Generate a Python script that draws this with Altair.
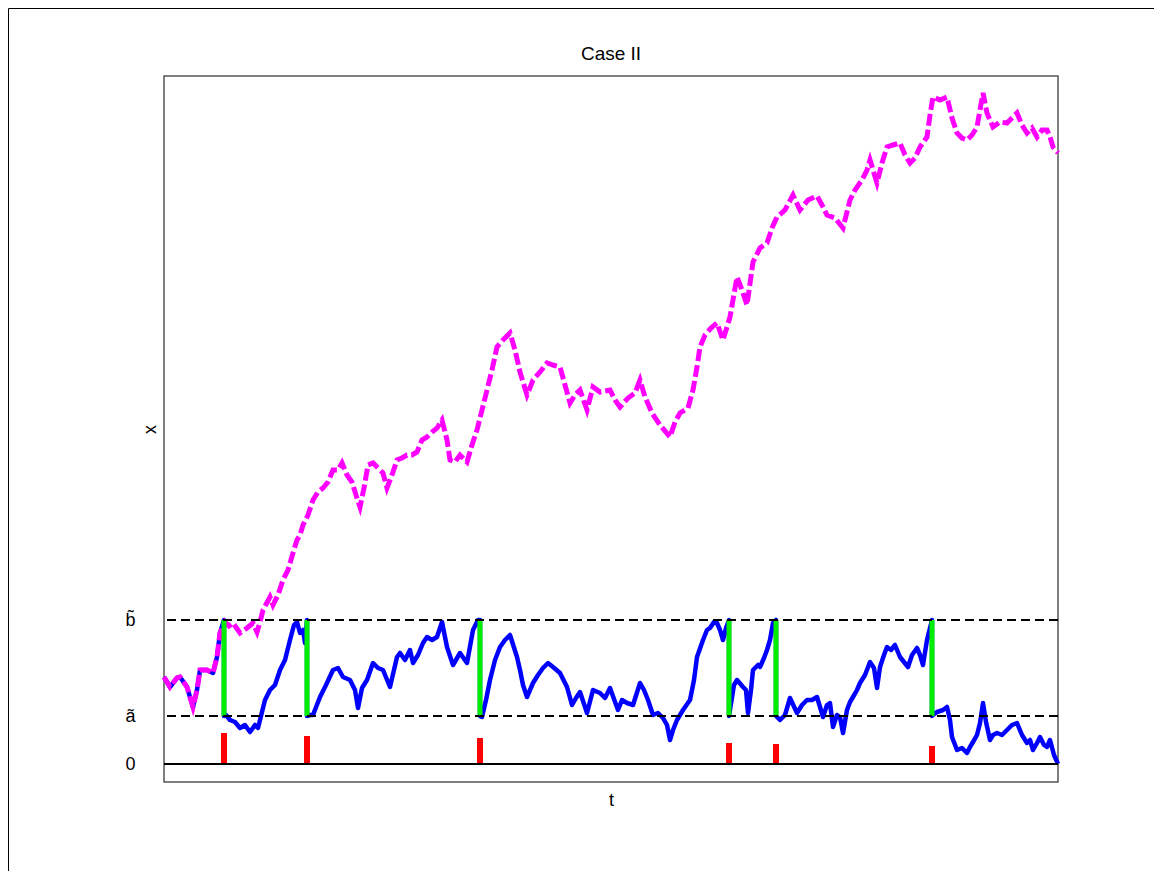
import altair as alt
import pandas as pd

# ---- data (t: time index 0..894, v: level; a~ = 48, b~ = 144) ----
mag_t = [0, 6, 13, 16, 23, 29, 33, 36, 43, 49, 53, 56, 61, 65, 69, 76, 83, 89, 93, 96,
         99, 106, 109, 114, 119, 124, 129, 133, 136, 139, 144, 149, 154, 159, 164, 169, 174, 178, 183, 188,
         192, 196, 200, 204, 209, 214, 219, 223, 228, 233, 238, 243, 248, 253, 258, 263, 268, 273, 278, 283,
         286, 291, 296, 303, 308, 313, 318, 323, 328, 333, 339, 346, 351, 356, 363, 369, 376, 383, 389, 396,
         401, 406, 411, 416, 423, 429, 436, 446, 451, 456, 464, 471, 476, 481, 488, 496, 506, 511, 516, 524,
         529, 533, 536, 541, 547, 553, 559, 566, 573, 578, 583, 589, 596, 603, 608, 613, 621, 629, 636, 644,
         653, 658, 663, 671, 679, 686, 691, 698, 703, 706, 713, 718, 723, 729, 736, 741, 746, 751, 756, 763,
         766, 769, 776, 783, 788, 793, 798, 803, 808, 813, 819, 823, 829, 836, 843, 848, 853, 858, 863, 868,
         873, 878, 883, 886, 889, 894]
mag_v = [87, 77, 86, 87, 77, 57, 74, 94, 94, 91, 107, 131, 142, 138, 141, 131, 136, 141, 132, 142,
         154, 167, 159, 169, 184, 194, 211, 224, 229, 239, 249, 264, 272, 276, 282, 294, 294, 301, 289, 282,
         269, 257, 276, 299, 301, 296, 291, 276, 289, 304, 306, 309, 309, 312, 324, 327, 332, 336, 344, 324,
         304, 302, 309, 302, 319, 334, 354, 374, 394, 417, 424, 431, 414, 392, 369, 384, 392, 401, 399, 397,
         379, 361, 369, 374, 354, 377, 372, 374, 364, 357, 366, 371, 384, 367, 351, 339, 327, 342, 351, 356,
         374, 397, 417, 429, 436, 441, 424, 447, 487, 474, 459, 502, 516, 521, 536, 547, 554, 569, 554, 564,
         568, 559, 549, 546, 536, 564, 574, 584, 594, 604, 581, 601, 617, 619, 621, 609, 601, 606, 617, 627,
         649, 667, 664, 667, 646, 631, 626, 624, 629, 637, 671, 651, 637, 642, 641, 646, 651, 639, 631, 636,
         627, 634, 634, 627, 617, 611]

blue_t = [0, 6, 13, 16, 23, 29, 33, 36, 43, 49, 53, 56, 60, 60,
          62, 66, 71, 76, 81, 86, 91, 94, 98, 101, 106, 111, 116, 121, 126, 130, 133, 136, 139, 141, 143, 143,
          146, 149, 156, 162, 169, 174, 179, 186, 191, 194, 198, 203, 209, 214, 219, 226, 233, 236, 241, 246,
          249, 254, 259, 263, 268, 273, 278, 283, 289, 296, 303, 309, 314, 316, 316,
          318, 322, 326, 331, 336, 341, 346, 353, 356, 359, 363, 369, 374, 379, 384, 389, 396, 403, 408, 412,
          416, 423, 429, 436, 441, 446, 454, 458, 463, 469, 476, 480, 484, 489, 494, 499, 503, 506, 509, 513,
          519, 526, 530, 533, 539, 543, 546, 550, 553, 556, 559, 562, 565, 565,
          566, 570, 573, 579, 582, 584, 587, 589, 594, 596, 600, 603, 606, 609, 612, 612,
          616, 621, 626, 633, 638, 643, 648, 653, 659, 663, 666, 669, 673, 676, 679, 683, 686, 689, 693, 696,
          701, 706, 710, 713, 716, 720, 723, 727, 731, 736, 740, 744, 748, 753, 756, 759, 763, 768, 768,
          769, 773, 779, 783, 786, 788, 793, 798, 803, 806, 809, 813, 816, 819, 822, 826, 829, 833, 838, 843,
          848, 853, 858, 863, 866, 869, 873, 876, 880, 883, 886, 890, 894]
blue_v = [87, 77, 86, 87, 77, 57, 74, 94, 94, 91, 107, 131, 144, 48,
          49, 44, 42, 36, 39, 32, 39, 36, 52, 64, 74, 79, 94, 104, 124, 139, 142, 131, 134, 121, 144, 48,
          49, 49, 67, 79, 94, 96, 87, 84, 74, 56, 76, 84, 101, 96, 94, 77, 107, 111, 104, 114,
          101, 109, 121, 127, 124, 127, 142, 117, 99, 111, 101, 134, 144, 144, 48,
          47, 64, 84, 104, 117, 124, 129, 107, 94, 79, 67, 81, 89, 96, 101, 97, 91, 77, 59, 66,
          72, 51, 74, 71, 66, 76, 54, 64, 61, 59, 81, 74, 64, 49, 51, 46, 39, 24, 34, 44,
          54, 64, 84, 107, 124, 134, 136, 142, 141, 134, 124, 136, 144, 48,
          54, 79, 84, 77, 74, 51, 74, 94, 99, 97, 106, 114, 124, 141, 144, 48,
          44, 49, 66, 51, 59, 64, 64, 67, 47, 59, 61, 37, 49, 47, 31, 54, 62, 67, 74, 81,
          89, 102, 96, 76, 97, 109, 117, 114, 119, 107, 102, 97, 109, 116, 109, 99, 124, 144, 48,
          49, 52, 54, 57, 44, 27, 14, 16, 11, 17, 22, 29, 41, 61, 42, 24, 29, 31, 29, 34,
          39, 41, 29, 21, 24, 14, 21, 27, 19, 17, 24, 9, 0]

jump_t = [60, 143, 316, 565, 612, 768]
jump_size = [31, 28, 26, 21, 20, 18]
level_a = 48
level_b = 144
levels = [level_a, level_b]
tick_values = [0, level_a, level_b]
title_text = "Case II"

FONT = "Liberation Sans"

mag = pd.DataFrame({"t": mag_t, "v": mag_v, "i": list(range(len(mag_t)))})
blue = pd.DataFrame({"t": blue_t, "v": blue_v, "i": list(range(len(blue_t)))})
jumps = pd.DataFrame({"t": jump_t, "h": jump_size, "lo": [level_a] * len(jump_t),
                      "hi": [level_b] * len(jump_t), "zero": [0] * len(jump_t)})
lv = pd.DataFrame({"v": levels})
zero = pd.DataFrame({"v": [0]})

xscale = alt.Scale(domain=[0, 894], nice=False, zero=False)
yscale = alt.Scale(domain=[-18, 688], nice=False, zero=False)
xaxis = alt.Axis(labels=False, ticks=False, domain=False, grid=False, title="t",
                 titleFont=FONT, titleFontSize=18, titleFontWeight="normal",
                 titleColor="black", titlePadding=9)
yaxis = alt.Axis(values=tick_values, ticks=False, domain=False, grid=False,
                 labelExpr="datum.value == 0 ? '0' : (datum.value == 48 ? 'a\u0303' : 'b\u0303')",
                 labelFont=FONT, labelFontSize=18, labelColor="black", labelPadding=29,
                 title="x", titleFont=FONT, titleFontSize=18, titleFontWeight="normal",
                 titleColor="black", titleX=-14, titleY=353, titleAngle=-90,
                 titleAlign="center", titleBaseline="middle")


def X(field):
    return alt.X(field, type="quantitative", scale=xscale, axis=xaxis)


def Y(field):
    return alt.Y(field, type="quantitative", scale=yscale, axis=yaxis)


blue_line = alt.Chart(blue).mark_line(color="#0000FF", strokeWidth=4.5, strokeJoin="round").encode(
    x=X("t"), y=Y("v"), order=alt.Order("i:Q"))
mag_line = alt.Chart(mag).mark_line(color="#FF00FF", strokeWidth=5, strokeDash=[12, 4]).encode(
    x=X("t"), y=Y("v"), order=alt.Order("i:Q"))
green = alt.Chart(jumps).mark_rule(color="#00EE00", strokeWidth=5, strokeCap="butt").encode(
    x=X("t"), y=Y("lo"), y2="hi")
red = alt.Chart(jumps).mark_rule(color="#FF0000", strokeWidth=6, strokeCap="butt").encode(
    x=X("t"), y=Y("zero"), y2="h")
hl = alt.Chart(lv).mark_rule(color="black", strokeWidth=2, strokeDash=[9, 5]).encode(y=Y("v"))
zl = alt.Chart(zero).mark_rule(color="black", strokeWidth=2).encode(y=Y("v"))

frame_data = pd.DataFrame({"k": [0]})
frame_top = alt.Chart(frame_data).mark_rule(color="black", strokeWidth=1).encode(
    x=alt.value(-155.5), x2=alt.value(990), y=alt.value(-67.5))
frame_left = alt.Chart(frame_data).mark_rule(color="black", strokeWidth=1).encode(
    x=alt.value(-155.5), y=alt.value(-67.5), y2=alt.value(795))

title_df = pd.DataFrame({"label": [title_text]})
title_mark = alt.Chart(title_df).mark_text(
    font=FONT, fontSize=19, color="black", align="center", baseline="alphabetic"
).encode(x=alt.value(447), y=alt.value(-16), text="label:N")

chart = alt.layer(blue_line, mag_line, green, red, hl, zl, frame_top, frame_left, title_mark).properties(
    width=894, height=706, padding=0, background="white",
).configure_view(stroke="#555555", strokeWidth=1.5)

chart.save("out.html", embed_options={"renderer": "svg", "actions": False})
